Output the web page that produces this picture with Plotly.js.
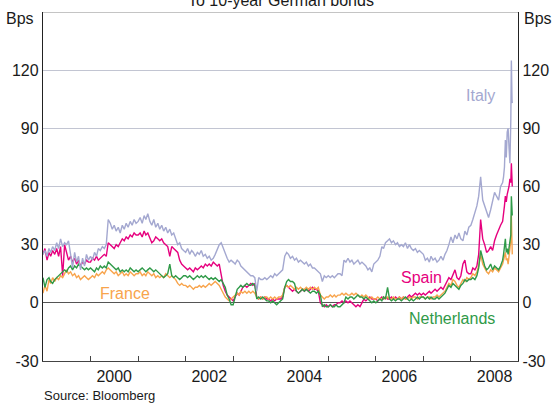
<!DOCTYPE html>
<html>
<head>
<meta charset="utf-8">
<script src="https://cdn.plot.ly/plotly-3.0.1.min.js"></script>
<style>html,body{margin:0;padding:0;background:#fff;}#chart{width:554px;height:403px;}</style>
</head>
<body>
<div id="chart"></div>
<script>
// Semi-monthly observation dates, then weekly-ish dates in late 2008
const dates = [
"1999-01-01","1999-01-16","1999-02-01","1999-02-16","1999-03-01","1999-03-16","1999-04-01","1999-04-16","1999-05-01","1999-05-16","1999-06-01","1999-06-16","1999-07-01","1999-07-16","1999-08-01","1999-08-16","1999-09-01","1999-09-16","1999-10-01","1999-10-16","1999-11-01","1999-11-16","1999-12-01","1999-12-16",
"2000-01-01","2000-01-16","2000-02-01","2000-02-16","2000-03-01","2000-03-16","2000-04-01","2000-04-16","2000-05-01","2000-05-16","2000-06-01","2000-06-16","2000-07-01","2000-07-16","2000-08-01","2000-08-16","2000-09-01","2000-09-16","2000-10-01","2000-10-16","2000-11-01","2000-11-16","2000-12-01","2000-12-16",
"2001-01-01","2001-01-16","2001-02-01","2001-02-16","2001-03-01","2001-03-16","2001-04-01","2001-04-16","2001-05-01","2001-05-16","2001-06-01","2001-06-16","2001-07-01","2001-07-16","2001-08-01","2001-08-16","2001-09-01","2001-09-16","2001-10-01","2001-10-16","2001-11-01","2001-11-16","2001-12-01","2001-12-16",
"2002-01-01","2002-01-16","2002-02-01","2002-02-16","2002-03-01","2002-03-16","2002-04-01","2002-04-16","2002-05-01","2002-05-16","2002-06-01","2002-06-16","2002-07-01","2002-07-16","2002-08-01","2002-08-16","2002-09-01","2002-09-16","2002-10-01","2002-10-16","2002-11-01","2002-11-16","2002-12-01","2002-12-16",
"2003-01-01","2003-01-16","2003-02-01","2003-02-16","2003-03-01","2003-03-16","2003-04-01","2003-04-16","2003-05-01","2003-05-16","2003-06-01","2003-06-16","2003-07-01","2003-07-16","2003-08-01","2003-08-16","2003-09-01","2003-09-16","2003-10-01","2003-10-16","2003-11-01","2003-11-16","2003-12-01","2003-12-16",
"2004-01-01","2004-01-16","2004-02-01","2004-02-16","2004-03-01","2004-03-16","2004-04-01","2004-04-16","2004-05-01","2004-05-16","2004-06-01","2004-06-16","2004-07-01","2004-07-16","2004-08-01","2004-08-16","2004-09-01","2004-09-16","2004-10-01","2004-10-16","2004-11-01","2004-11-16","2004-12-01","2004-12-16",
"2005-01-01","2005-01-16","2005-02-01","2005-02-16","2005-03-01","2005-03-16","2005-04-01","2005-04-16","2005-05-01","2005-05-16","2005-06-01","2005-06-16","2005-07-01","2005-07-16","2005-08-01","2005-08-16","2005-09-01","2005-09-16","2005-10-01","2005-10-16","2005-11-01","2005-11-16","2005-12-01","2005-12-16",
"2006-01-01","2006-01-16","2006-02-01","2006-02-16","2006-03-01","2006-03-16","2006-04-01","2006-04-16","2006-05-01","2006-05-16","2006-06-01","2006-06-16","2006-07-01","2006-07-16","2006-08-01","2006-08-16","2006-09-01","2006-09-16","2006-10-01","2006-10-16","2006-11-01","2006-11-16","2006-12-01","2006-12-16",
"2007-01-01","2007-01-16","2007-02-01","2007-02-16","2007-03-01","2007-03-16","2007-04-01","2007-04-16","2007-05-01","2007-05-16","2007-06-01","2007-06-16","2007-07-01","2007-07-16","2007-08-01","2007-08-16","2007-09-01","2007-09-16","2007-10-01","2007-10-16","2007-11-01","2007-11-16","2007-12-01","2007-12-16",
"2008-01-01","2008-01-16","2008-02-01","2008-02-16","2008-03-01","2008-03-16","2008-04-01","2008-04-16","2008-05-01","2008-05-16","2008-06-01","2008-06-16","2008-07-01","2008-07-16","2008-08-01","2008-08-16",
"2008-09-01","2008-09-08","2008-09-15","2008-09-22","2008-09-29","2008-10-06","2008-10-13","2008-10-20","2008-10-27","2008-11-03","2008-11-07","2008-11-12","2008-11-14"
];

// Spreads to 10-year German bonds, basis points
const italy = [
25,27,24,28,26,29, 27,31,28,33,29,31, 30,32,25,18,26,21, 24,17,23,19,25,22,
24,22,26,24,28,27, 29,28,30,43,41,38, 40,37,39,36,40,38, 41,39,42,40,43,41,
42,44,41,45,43,46, 42,40,43,39,41,38, 40,37,39,36,38,35, 36,33,30,31,28,27,
26,28,25,27,26,24, 26,25,27,24,25,23, 24,22,23,25,28,30, 31,28,25,23,21,22,
21,20,22,21,19,18, 17,16,15,14,14,13, 6,13,12,12,13,12, 13,14,13,15,14,15,
16,17,24,26,25,23, 24,22,23,21,22,21, 20,21,19,20,18,18, 17,16,15,11,14,13,
14,13,14,13,14,15, 15,14,22,21,23,21, 22,20,21,22,20,21, 20,19,17,18,16,20,
21,22,24,29,28,31, 32,33,31,32,30,31, 29,30,29,31,28,30, 28,27,28,26,27,26,
25,22,23,21,24,22, 23,21,22,24,22,25, 27,30,34,31,35,33, 36,33,32,37,35,39,
40,43,47,50,55,65, 53,50,46,44,48,52, 57,55,53,60,
62,65,70,84,75,88,90,80,72,95,125,105,103
];
const spain = [
25,28,22,26,24,27, 25,28,24,29,14,30, 26,22,24,21,23,20, 22,19,21,20,22,21,
21,23,22,24,22,23, 24,25,24,31,30,29, 28,30,29,31,33,32, 34,33,35,34,36,35,
35,36,34,37,35,36, 33,31,32,34,33,32, 33,31,30,29,24,29, 28,27,26,22,20,19,
18,17,18,17,16,18, 17,18,19,18,20,19, 20,19,21,20,19,20, 14,9,6,4,3,2,
1,3,5,4,6,8, 9,8,9,10,9,10, 3,2,3,2,3,2, 2,1,2,1,2,2,
2,3,8,9,8,7, 6,7,6,5,6,7, 6,7,6,7,8,7, 7,6,0,-1,-2,-1,
-2,-1,-2,-1,-1,0, 0,1,0,1,0,1, 0,-1,-2,-1,-2,0, 2,1,2,3,2,2,
2,1,2,3,2,3, 2,2,3,2,3,2, 3,2,3,2,3,4, 3,4,5,4,5,4,
5,4,5,6,5,6, 7,6,7,8,7,9, 11,13,12,14,17,13, 12,14,20,22,16,15,
15,18,17,19,25,43, 33,30,26,27,29,27, 32,35,38,40,
42,45,50,55,52,56,58,60,64,62,72,65,60
];
const france = [
5,9,6,12,10,13, 11,13,12,14,13,15, 17,15,16,14,15,13, 14,12,13,14,13,12,
13,14,13,15,14,15, 16,15,17,18,17,16, 15,16,14,15,16,14, 15,14,16,15,14,15,
15,16,14,15,14,16, 15,14,15,13,14,13, 14,13,15,14,13,14, 13,12,10,9,10,9,
9,8,9,8,7,8, 8,9,8,9,8,9, 10,9,10,11,10,9, 7,5,3,2,1,2,
3,4,5,4,6,5, 6,5,6,5,6,5, 3,2,3,2,3,3, 2,3,2,3,2,3,
3,4,8,9,8,9, 8,7,8,7,8,7, 7,8,7,8,7,8, 7,8,4,3,2,3,
3,4,3,4,3,4, 4,5,4,5,4,4, 5,4,5,4,3,4, 3,4,3,2,3,2,
2,3,2,2,3,2, 3,2,2,3,2,2, 3,2,3,2,2,3, 2,3,3,2,3,3,
3,2,3,3,2,3, 3,4,3,4,5,6, 8,10,9,12,11,9, 8,10,12,11,13,12,
13,15,14,16,19,25, 20,18,16,15,17,16, 18,17,16,18,
20,22,24,26,22,23,20,24,28,32,45,30,25
];
const netherlands = [
13,8,12,13,11,10, 12,13,14,15,16,17, 16,18,19,17,19,18, 20,19,18,17,18,17,
18,17,16,18,17,19, 18,19,18,21,20,19, 18,17,18,16,17,16, 17,16,18,17,16,17,
16,17,18,17,16,17, 18,17,16,17,16,15, 14,13,14,15,20,14, 13,14,13,12,13,14,
14,13,14,13,12,13, 14,13,14,13,14,13, 12,13,12,13,12,11, 12,10,8,4,2,-1,
-1,3,7,8,9,8, 9,10,9,9,10,9, 2,3,2,3,2,1, 1,0,1,0,-1,0,
1,2,8,11,12,11, 11,10,6,5,6,7, 6,7,6,5,6,6, 5,6,4,-2,-1,-2,
-2,-1,-2,-2,-1,-2, -2,-1,0,3,2,3, 3,2,3,4,3,3, 2,3,2,1,0,1,
0,1,2,1,3,2, 8,2,1,2,1,2, 2,1,2,3,2,1, 2,1,2,3,2,3,
3,2,3,2,3,2, 2,3,2,3,4,5, 7,9,8,10,9,8, 7,9,10,12,11,12,
12,13,12,14,18,27, 22,19,17,18,20,17, 19,18,17,19,
22,25,30,33,26,28,25,28,30,35,55,48,45
];

const yTicks = [-30, 0, 30, 60, 90, 120];
const yTickText = ["-30", "0", "30", "60", "90", "120"];
const xTickVals = ["2000-07-01","2002-07-01","2004-07-01","2006-07-01","2008-07-01"];
const xTickText = ["2000","2002","2004","2006","2008"];
const yearStarts = ["2000-01-01","2001-01-01","2002-01-01","2003-01-01","2004-01-01","2005-01-01","2006-01-01","2007-01-01","2008-01-01"];

const C = {italy:'#a4a8d0', spain:'#e6007e', france:'#f8a44c', nl:'#2f9a48'};
const FONT = 'Arial, "Liberation Sans", sans-serif';

function tr(y, color, name){
  return {x: dates, y: y, type:'scatter', mode:'lines', name: name,
    line:{color: color, width:1.4}, hoverinfo:'skip', showlegend:false};
}
const traces = [
  tr(spain, C.spain, 'Spain'),
  tr(france, C.france, 'France'),
  tr(netherlands, C.nl, 'Netherlands'),
  tr(italy, C.italy, 'Italy'),
  {x:[dates[100]], y:[50], yaxis:'y2', type:'scatter', mode:'markers', marker:{opacity:0, size:1}, hoverinfo:'skip', showlegend:false}
];

const tickFont = {family: FONT, size:16, color:'#1a1a1a'};
const layout = {
  width:554, height:403,
  margin:{l:43, r:36, t:12, b:42, pad:0},
  paper_bgcolor:'#fff', plot_bgcolor:'#fff',
  font:{family: FONT, size:16, color:'#1a1a1a'},
  xaxis:{type:'date', range:['1999-01-01','2008-12-28'],
    tickvals:xTickVals, ticktext:xTickText, ticks:'', tickfont:tickFont,
    showgrid:false, zeroline:false, showline:true, linecolor:'#444', linewidth:1.3,
    minor:{tickmode:'array', tickvals:yearStarts, ticks:'inside', ticklen:5, tickcolor:'#444', tickwidth:1, showgrid:false},
    fixedrange:true},
  yaxis:{range:[-30,150], tickvals:yTicks, ticktext:yTickText, ticks:'', tickfont:tickFont,
    showgrid:true, gridcolor:'#c2c5d2', gridwidth:1,
    zeroline:true, zerolinecolor:'#555', zerolinewidth:1.3,
    showline:true, linecolor:'#222', linewidth:1.2, fixedrange:true},
  yaxis2:{range:[-30,150], tickvals:yTicks, ticktext:yTickText, ticks:'', tickfont:tickFont,
    overlaying:'y', side:'right', showgrid:false, zeroline:false,
    showline:true, linecolor:'#222', linewidth:1.2, fixedrange:true},
  shapes:[{type:'line', xref:'paper', yref:'y', x0:0, x1:1, y0:150, y1:150, line:{color:'#8a8a8a', width:1}}],
  annotations:[
    {text:'To 10-year German bonds', xref:'paper', yref:'paper', x:0.5, y:1.034, xanchor:'center', yanchor:'middle', showarrow:false, font:{family:FONT, size:16, color:'#1a1a1a'}},
    {text:'Bps', xref:'paper', yref:'paper', x:-0.048, y:0.98, xanchor:'center', yanchor:'middle', showarrow:false, font:{family:FONT, size:16, color:'#1a1a1a'}},
    {text:'Bps', xref:'paper', yref:'paper', x:1.042, y:0.98, xanchor:'center', yanchor:'middle', showarrow:false, font:{family:FONT, size:16, color:'#1a1a1a'}},
    {text:'Source: Bloomberg', xref:'paper', yref:'paper', x:-0.002, y:-0.100, xanchor:'left', yanchor:'middle', showarrow:false, font:{family:FONT, size:13, color:'#1a1a1a'}},
    {text:'Italy', xref:'x', yref:'y', x:'2008-03-15', y:107, xanchor:'center', yanchor:'middle', showarrow:false, font:{family:FONT, size:16, color:C.italy}},
    {text:'Spain', xref:'x', yref:'y', x:'2006-12-15', y:13, xanchor:'center', yanchor:'middle', showarrow:false, font:{family:FONT, size:16, color:C.spain}},
    {text:'France', xref:'x', yref:'y', x:'2000-09-20', y:5, xanchor:'center', yanchor:'middle', showarrow:false, font:{family:FONT, size:16, color:C.france}},
    {text:'Netherlands', xref:'x', yref:'y', x:'2007-08-08', y:-8, xanchor:'center', yanchor:'middle', showarrow:false, font:{family:FONT, size:16, color:C.nl}}
  ]
};
Plotly.newPlot('chart', traces, layout, {staticPlot:true, displayModeBar:false});
</script>
</body>
</html>
